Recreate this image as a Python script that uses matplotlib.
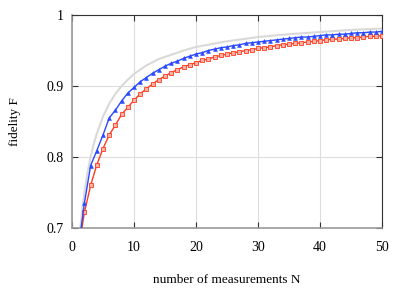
import matplotlib
matplotlib.use("Agg")
import matplotlib.pyplot as plt

N = list(range(1, 51))
fid_blue = [0.669, 0.735, 0.788, 0.809, 0.831, 0.855, 0.866, 0.879, 0.890, 0.898,
            0.906, 0.912, 0.918, 0.923, 0.928, 0.932, 0.935, 0.939, 0.942, 0.945,
            0.947, 0.950, 0.952, 0.954, 0.955, 0.957, 0.958, 0.960, 0.961, 0.962,
            0.963, 0.964, 0.965, 0.966, 0.967, 0.968, 0.969, 0.969, 0.970, 0.971,
            0.972, 0.972, 0.973, 0.973, 0.974, 0.975, 0.975, 0.976, 0.976, 0.977]
fid_red = [0.667, 0.722, 0.760, 0.789, 0.812, 0.831, 0.845, 0.860, 0.870, 0.880,
           0.889, 0.896, 0.903, 0.909, 0.914, 0.919, 0.923, 0.927, 0.930, 0.933,
           0.936, 0.938, 0.941, 0.943, 0.945, 0.947, 0.948, 0.950, 0.951, 0.953,
           0.954, 0.955, 0.957, 0.958, 0.959, 0.960, 0.961, 0.962, 0.963, 0.964,
           0.965, 0.966, 0.966, 0.967, 0.968, 0.968, 0.969, 0.970, 0.970, 0.971]
N_gray = [1, 1.5, 2, 2.5, 3, 3.5, 4, 5, 6, 7, 8, 9, 10, 12, 14, 16, 18, 20,
          25, 30, 35, 40, 45, 50]
fid_gray = [0.667, 0.714, 0.750, 0.778, 0.800, 0.818, 0.833, 0.857, 0.875, 0.889,
            0.900, 0.909, 0.917, 0.929, 0.938, 0.944, 0.950, 0.955, 0.963, 0.969,
            0.973, 0.976, 0.979, 0.981]
xticks = [0, 10, 20, 30, 40, 50]
yticks = [0.7, 0.8, 0.9, 1.0]
yticklabels = ["0.7", "0.8", "0.9", "1"]

plt.rcParams['font.family'] = ['Liberation Serif', 'DejaVu Serif']
fig = plt.figure(figsize=(4.15, 2.92), dpi=100)
ax = fig.add_axes([0.1735, 0.219, 0.747, 0.7296])

ax.plot(N_gray, fid_gray, color='#d9d9d9', lw=1.5, zorder=2)
ax.plot(N, fid_red, color='#ff3b1e', lw=1.0, marker='s', ms=2.4,
        mfc='#ffb0a5', mec='#ff3b1e', mew=0.6, zorder=3)
ax.plot(N, fid_blue, color='#2a48ff', lw=1.0, marker='^', ms=2.8,
        mfc='#2a48ff', mec='#2a48ff', mew=0.4, zorder=4)

ax.set_xlim(0, 50)
ax.set_ylim(0.7, 1.0)
ax.set_xticks(xticks)
ax.set_yticks(yticks)
ax.set_yticklabels(yticklabels)
ax.grid(True, color='#dddddd', lw=0.8, zorder=0)
ax.set_axisbelow(True)
ax.tick_params(direction='in', top=True, right=True, length=4, width=0.8,
               color='#333333', labelsize=10)
ax.tick_params(axis='x', pad=9)
ax.tick_params(axis='y', pad=6)
for s in ['left', 'bottom']:
    ax.spines[s].set_color('#999999')
    ax.spines[s].set_linewidth(1.2)
for s in ['top', 'right']:
    ax.spines[s].set_color('#333333')
    ax.spines[s].set_linewidth(0.8)

ax.set_xlabel('number of measurements N', fontsize=9.5, labelpad=15)
ax.set_ylabel('fidelity F', fontsize=9.5, labelpad=18)

fig.savefig('out.png', dpi=100)
